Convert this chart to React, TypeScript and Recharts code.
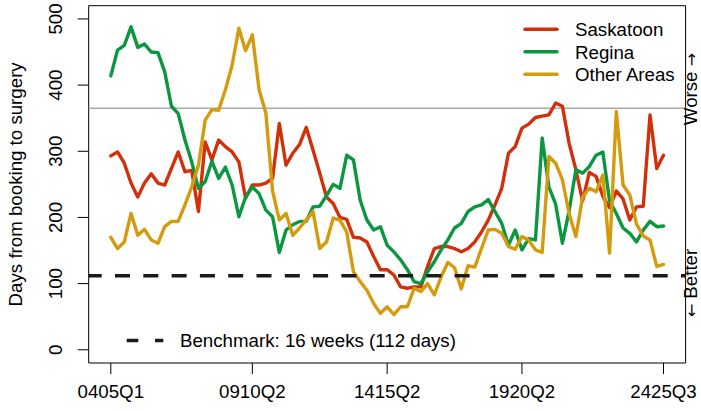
import React from 'react';
import { LineChart, Line, XAxis, YAxis, ReferenceLine, ReferenceArea, Legend } from 'recharts';

const fiscalYears = ['0405','0506','0607','0708','0809','0910','1011','1112','1213','1314','1415','1516','1617','1718','1819','1920','2021','2122','2223','2324','2425'];
const quarters = ['Q1','Q2','Q3','Q4'];
const pointCount = 83;

const saskatoon = [293,299,282,252,231,252,266,252,249,274,299,269,271,209,314,287,317,307,299,284,229,249,249,252,259,342,279,297,310,336,302,267,231,221,200,197,170,169,163,141,121,121,113,95,93,95,95,126,153,156,156,153,148,153,163,178,196,219,244,297,307,335,341,351,353,355,373,368,312,272,225,268,262,232,215,240,228,196,216,217,355,274,294];
const regina = [414,453,460,488,457,462,450,449,420,368,357,317,284,244,254,285,259,276,249,201,231,246,236,211,201,147,181,189,194,194,216,217,233,250,244,294,287,226,196,181,186,158,148,136,121,103,100,118,133,151,166,184,191,209,216,219,227,209,191,158,181,151,168,166,320,246,220,161,210,272,267,277,294,299,225,206,184,176,163,181,194,186,187];
const otherAreas = [170,153,163,206,173,182,166,161,186,194,194,219,246,279,347,363,362,393,430,486,452,476,393,358,240,196,206,173,184,196,209,153,163,199,196,178,118,103,90,70,55,65,53,65,65,93,88,100,83,110,132,124,92,127,125,153,181,182,176,156,152,171,166,151,147,292,282,257,206,171,231,244,239,264,146,360,249,234,190,172,166,126,129];

const xTickIndices = [0, 21, 41, 61, 82];
const yTicks = [0, 100, 200, 300, 400, 500];
const benchmark = 112;
const upperRef = 365;

const seriesNames = ['Saskatoon', 'Regina', 'Other Areas'];
const seriesKeys = ['sask', 'regina', 'other'];
const seriesColors = ['#D2300B', '#0B9640', '#D49B0E'];

const categories: string[] = fiscalYears.flatMap((fy) => quarters.map((q) => fy + q)).slice(0, pointCount);

const data = categories.map((label, i) => ({
  i,
  label,
  sask: saskatoon[i],
  regina: regina[i],
  other: otherAreas[i],
}));

const FONT = '"Liberation Sans", Arial, Helvetica, sans-serif';
const ARROW_FONT = '"DejaVu Sans", sans-serif';
const FS = 18.7;

const YTick = (props: any) => {
  const { x, y, payload } = props;
  return (
    <text x={x} y={y} transform={`rotate(-90 ${x} ${y})`} textAnchor="middle" fontFamily={FONT} fontSize={FS} fill="#000">
      {payload.value}
    </text>
  );
};

const YLabel = (props: any) => {
  const vb = props.viewBox || { x: 0, y: 0, width: 0, height: 0 };
  const cy = vb.y + vb.height / 2;
  const cx = 22.5;
  return (
    <text x={cx} y={cy} transform={`rotate(-90 ${cx} ${cy})`} textAnchor="middle" fontFamily={FONT} fontSize={FS} fill="#000">
      Days from booking to surgery
    </text>
  );
};

const Overlay = () => {
  const rowBase = [36, 58.5, 81];
  const sideX = 696.5;
  return (
    <svg width={701} height={411} style={{ position: 'absolute', left: 0, top: 0, overflow: 'hidden' }}>
      {seriesNames.map((name, k) => (
        <g key={name}>
          <line x1={525} x2={557} y1={rowBase[k] - 6.7} y2={rowBase[k] - 6.7} stroke={seriesColors[k]} strokeWidth={3.5} strokeLinecap="round" />
          <text x={575} y={rowBase[k]} fontFamily={FONT} fontSize={FS} fill="#000">{name}</text>
        </g>
      ))}
      <line x1={126.7} x2={163.3} y1={340.5} y2={340.5} stroke="#1a1a1a" strokeWidth={3.5} strokeDasharray="11.6 16.7" />
      <text x={180} y={347} fontFamily={FONT} fontSize={FS} fill="#000">Benchmark: 16 weeks (112 days)</text>
      <text x={sideX} y={89} transform={`rotate(-90 ${sideX} 89)`} textAnchor="middle" fontFamily={FONT} fontSize={FS} fill="#000">
        Worse <tspan fontFamily={ARROW_FONT} fontSize={16}>→</tspan>
      </text>
      <text x={sideX} y={283} transform={`rotate(-90 ${sideX} 283)`} textAnchor="middle" fontFamily={FONT} fontSize={FS} fill="#000">
        <tspan fontFamily={ARROW_FONT} fontSize={16}>←</tspan> Better
      </text>
    </svg>
  );
};

export default function App() {
  return (
    <div style={{ position: 'absolute', left: 0, top: 0, width: 701, height: 411, background: '#fff' }}>
      <LineChart width={701} height={411} data={data} margin={{ top: 5.7, right: 15.4, left: 0, bottom: 0 }}>
        <XAxis
          dataKey="i"
          type="number"
          domain={[-3.28, 85.28]}
          allowDataOverflow
          ticks={xTickIndices}
          tickFormatter={(v: number) => categories[v]}
          height={48}
          tickSize={11}
          tickMargin={10.7}
          axisLine={false}
          tickLine={{ stroke: '#000', strokeWidth: 1 }}
          tick={{ fill: '#000', fontSize: FS, fontFamily: FONT }}
          interval={0}
        />
        <YAxis
          type="number"
          domain={[-20, 520]}
          allowDataOverflow
          ticks={yTicks}
          width={88.7}
          tickSize={11}
          tickMargin={16}
          axisLine={false}
          tickLine={{ stroke: '#000', strokeWidth: 1 }}
          tick={(p: any) => <YTick {...p} />}
          interval={0}
          label={{ content: (p: any) => <YLabel {...p} /> }}
        />
        <ReferenceLine y={upperRef} stroke="#aaaaaa" strokeWidth={1.5} />
        {seriesKeys.map((key, k) => (
          <Line
            key={key}
            dataKey={key}
            name={seriesNames[k]}
            stroke={seriesColors[k]}
            strokeWidth={3.4}
            strokeLinejoin="round"
            strokeLinecap="round"
            dot={false}
            activeDot={false}
            isAnimationActive={false}
            type="linear"
          />
        ))}
        <ReferenceLine y={benchmark} stroke="#1a1a1a" strokeWidth={3.5} strokeDasharray="15 13.3" strokeDashoffset={2} />
        <ReferenceArea x1={-3.28} x2={85.28} y1={-20} y2={520} fill="none" fillOpacity={0} stroke="#000" strokeWidth={1} ifOverflow="visible" />
        <Legend
          layout="vertical"
          align="center"
          verticalAlign="middle"
          content={() => <Overlay />}
          wrapperStyle={{ position: 'absolute', left: 0, top: 0, width: 701, height: 411, pointerEvents: 'none' }}
        />
      </LineChart>
    </div>
  );
}
